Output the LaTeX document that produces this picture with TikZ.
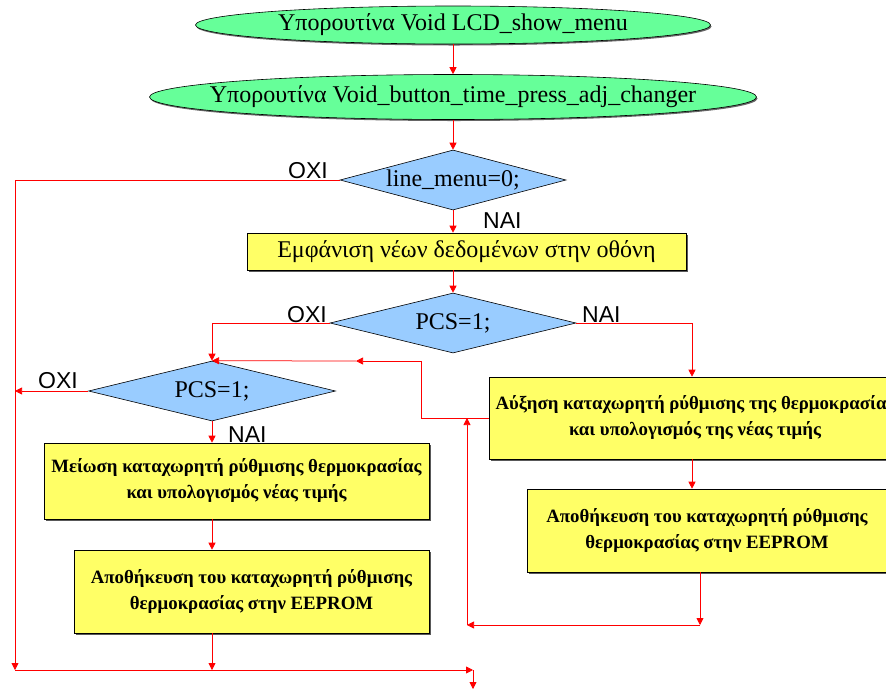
\documentclass[tikz,border=0pt]{standalone}
\usepackage{fontspec}
\setmainfont{Liberation Serif}
\newfontfamily\answerfont{Liberation Sans}
\usetikzlibrary{shapes.geometric,arrows.meta,shadows}

\definecolor{termgreen}{HTML}{66FF99}
\definecolor{testblue}{HTML}{99CCFF}
\definecolor{procyellow}{HTML}{FFFF66}

\tikzset{
  boxshadow/.style={drop shadow={shadow xshift=2pt,shadow yshift=-2pt,fill=black!65,opacity=1}},
  term/.style={ellipse, draw=black, fill=termgreen, line width=0.6pt, inner sep=0pt,
    drop shadow={shadow xshift=1pt,shadow yshift=-1.5pt,fill=black!60,opacity=1}},
  test/.style={diamond, draw=black, fill=testblue, line width=0.6pt, inner sep=0pt},
  proc/.style={rectangle, draw=black, fill=procyellow, line width=0.6pt, inner sep=0pt,
    align=center, boxshadow},
  bigtext/.style={font=\fontsize{24}{28}\selectfont},
  smalltext/.style={font=\bfseries\fontsize{18.8}{26}\selectfont},
  answer/.style={font=\answerfont\fontsize{23}{23}\selectfont, inner sep=0pt},
  flow/.style={draw=red, line width=0.75pt},
  arr/.style={flow, -{Triangle[length=7pt,width=7pt]}},
}

\begin{document}
\begin{tikzpicture}[x=1pt,y=-1pt]
\useasboundingbox (0,0) rectangle (886,689);
\clip (0,0) rectangle (886,689);
\fill[white] (0,0) rectangle (886,689);

% start of the subroutine
\node[term, minimum width=515pt, minimum height=38pt,
  label={[bigtext]center:Υπορουτίνα Void LCD\_show\_menu}] (e1) at (453,25) {};
\node[term, minimum width=607pt, minimum height=45pt,
  label={[bigtext]center:Υπορουτίνα Void\_button\_time\_press\_adj\_changer}] (e2) at (453,97) {};

% first test and display box
\node[test, minimum width=226pt, minimum height=60pt,
  label={[bigtext]center:line\_menu=0;}] (d1) at (453,180) {};
\node[proc, bigtext, minimum width=439pt, minimum height=37pt] (b1) at (466.5,251.5)
  {Εμφάνιση νέων δεδομένων στην οθόνη};

% PCS tests
\node[test, minimum width=246pt, minimum height=60pt,
  label={[bigtext]center:PCS=1;}] (d2) at (453,323) {};
\node[test, minimum width=247pt, minimum height=60pt,
  label={[bigtext]center:PCS=1;}] (d3) at (212,391) {};

% left branch
\node[proc, smalltext, minimum width=385pt, minimum height=76pt] (l1) at (236.5,481)
  {Μείωση καταχωρητή ρύθμισης θερμοκρασίας\\και υπολογισμός νέας τιμής};
\node[proc, smalltext, minimum width=355pt, minimum height=83pt] (l2) at (251.5,591.5)
  {Αποθήκευση του καταχωρητή ρύθμισης\\θερμοκρασίας στην EEPROM};

% right branch
\node[proc, smalltext, minimum width=412pt, minimum height=82pt] (r1) at (695,418)
  {Αύξηση καταχωρητή ρύθμισης της θερμοκρασίας\\και υπολογισμός της νέας τιμής};
\node[proc, smalltext, minimum width=360pt, minimum height=83pt] (r2) at (707,530.5)
  {Αποθήκευση του καταχωρητή ρύθμισης\\θερμοκρασίας στην EEPROM};

% yes / no labels
\node[answer, anchor=base east] (n1) at (328,178) {ΟΧΙ};
\node[answer, anchor=base west] (y1) at (483,228) {ΝΑΙ};
\node[answer, anchor=base east] (n2) at (327,322) {ΟΧΙ};
\node[answer, anchor=base west] (y2) at (582,322) {ΝΑΙ};
\node[answer, anchor=base east] (n3) at (78,388) {ΟΧΙ};
\node[answer, anchor=base west] (y3) at (228,442) {ΝΑΙ};

% routing points
\coordinate (bl) at (15,670);
\coordinate (br) at (473,670);
\coordinate (bend) at (473,689);
\coordinate (rcol) at (692,0);
\coordinate (r2col) at (700,0);
\coordinate (rb) at (700,625);
\coordinate (lb) at (467,625);
\coordinate (rk) at (421,361);
\coordinate (rmid) at (356,361);

% main column
\draw[arr] (e1.south) -- (e2.north);
\draw[arr] (e2.south) -- (d1.north);
\draw[arr] (d1.south) -- (b1.north -| d1.south);
\draw[arr] (b1.south -| d2.north) -- (d2.north);

% no-branch of the first test and common exit
\draw[arr] (d1.west) -| (bl);
\draw[arr] (d3.west) -- (d3.west -| bl);
\draw[arr] (bl) -- (br);
\draw[arr] (br) -- (bend);

% PCS branches
\draw[arr] (d2.west) -| (d3.north);
\draw[arr] (d2.east) -| (r1.north -| rcol);

% decrement path
\draw[arr] (d3.south) -- (l1.north -| d3.south);
\draw[arr] (l1.south -| d3.south) -- (l2.north -| d3.south);
\draw[arr] (l2.south -| d3.south) -- (d3.south |- bl);

% increment path
\draw[arr] (r1.south -| rcol) -- (r2.north -| rcol);
\draw[arr] (r2.south -| r2col) -- (rb);
\draw[arr] (rb) -- (lb);
\draw[arr] (lb) -- (lb |- r1.west);
\draw[arr] (r1.west) -| (rk) -- (rmid);
\draw[arr] (rmid) -- (d3.north);
\end{tikzpicture}
\end{document}
